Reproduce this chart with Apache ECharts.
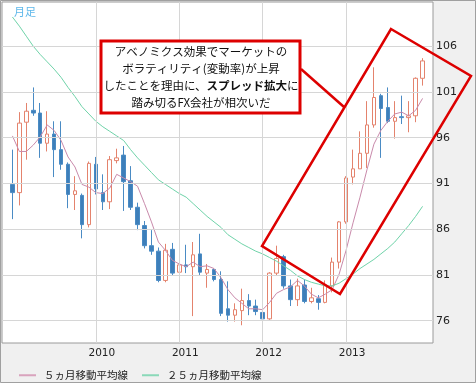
<!DOCTYPE html>
<html><head><meta charset="utf-8">
<script src="https://cdn.jsdelivr.net/npm/echarts@6/dist/echarts.min.js"></script>
<style>html,body{margin:0;padding:0;background:#fff}#c{width:476px;height:383px}</style>
</head><body><div id="c"></div>
<script>
const months = [
 '2009/01','2009/02','2009/03','2009/04','2009/05','2009/06','2009/07','2009/08','2009/09','2009/10','2009/11','2009/12',
 '2010/01','2010/02','2010/03','2010/04','2010/05','2010/06','2010/07','2010/08','2010/09','2010/10','2010/11','2010/12',
 '2011/01','2011/02','2011/03','2011/04','2011/05','2011/06','2011/07','2011/08','2011/09','2011/10','2011/11','2011/12',
 '2012/01','2012/02','2012/03','2012/04','2012/05','2012/06','2012/07','2012/08','2012/09','2012/10','2012/11','2012/12',
 '2013/01','2013/02','2013/03','2013/04','2013/05','2013/06','2013/07','2013/08','2013/09','2013/10','2013/11','2013/12'];
const opens  = [90.9,90.0,97.7,99.0,98.7,95.4,96.4,94.7,93.1,89.8,89.7,86.5,
                93.1,90.0,89.0,93.5,94.1,91.3,88.4,86.4,84.2,83.6,80.4,83.8,
                81.3,82.1,81.9,83.3,81.2,81.6,80.5,77.3,76.6,77.1,78.2,77.6,
                76.9,76.2,81.2,83.0,79.8,78.3,79.9,78.1,78.4,78.0,79.8,82.4,
                86.8,91.7,92.6,94.3,97.4,100.6,99.3,97.8,98.3,98.2,98.4,102.5];
const closes = [90.0,97.6,98.9,98.7,95.4,96.4,94.7,93.1,89.8,90.2,86.5,93.2,
                90.4,89.0,93.6,93.8,91.2,88.4,86.5,84.2,83.6,80.4,83.7,81.2,
                82.1,81.9,83.2,81.3,81.6,80.5,76.8,76.6,77.2,78.2,77.6,77.0,
                76.2,81.2,82.8,79.8,78.3,79.8,78.1,78.5,78.0,79.9,82.4,86.8,
                91.6,92.6,94.3,97.4,100.4,99.2,97.8,98.2,98.2,98.4,102.5,104.4];
const lows   = [87.1,88.6,93.6,98.4,93.8,94.5,91.7,92.5,88.3,88.1,85.0,86.2,
                89.8,88.1,88.2,93.2,88.0,88.1,85.9,83.9,83.2,80.2,80.2,80.9,
                81.0,81.2,76.5,81.0,79.6,80.3,76.5,75.9,75.9,75.5,76.6,76.6,
                76.0,76.1,80.9,79.5,77.6,77.6,77.9,77.9,77.2,77.9,79.1,81.7,
                86.6,90.9,92.6,92.7,97.1,93.8,97.6,95.9,97.5,96.6,97.7,101.7];
const highs  = [94.7,98.8,99.8,101.5,99.8,98.9,97.8,97.8,93.3,91.8,89.9,93.4,
                93.9,92.0,94.0,94.8,95.1,92.9,88.9,86.9,85.9,84.0,84.4,84.5,
                83.7,84.3,84.6,85.5,82.2,81.7,81.4,80.3,77.9,79.5,78.9,78.3,
                78.3,81.3,84.2,83.2,80.5,80.6,80.5,79.6,78.8,80.4,82.9,86.9,
                91.8,94.7,96.7,100.0,103.7,100.8,101.5,100.0,100.6,100.0,102.6,104.7];
const ma5    = [96.2,94.5,94.5,95.2,96.1,97.4,96.8,95.7,93.9,92.8,90.9,90.6,
                90.0,89.9,90.5,92.0,91.6,91.2,90.7,88.8,86.8,84.6,83.7,82.6,
                82.2,81.9,82.4,81.9,82.0,81.7,80.7,79.4,78.5,77.9,77.3,77.3,
                77.2,78.0,79.0,79.4,79.7,80.4,79.8,78.9,78.5,78.9,79.4,81.1,
                83.7,86.7,89.5,92.5,95.3,96.8,97.8,98.6,98.8,98.4,99.0,100.3];
const ma25   = [109.2,108.2,107.1,106.0,105.1,104.3,103.5,102.6,101.5,100.5,99.4,98.6,
                97.8,97.2,96.7,96.2,95.7,94.7,93.8,93.0,92.2,91.4,90.9,90.4,
                89.9,89.5,88.8,88.1,87.4,86.8,86.2,85.4,84.9,84.4,84.0,83.6,
                83.3,82.9,82.5,82.0,81.5,80.9,80.5,80.2,80.0,79.8,79.8,80.1,
                80.6,81.1,81.7,82.2,82.7,83.3,83.9,84.6,85.5,86.4,87.4,88.5];
const yTicks = [76,81,86,91,96,101,106];
const yearLabels = ['2010','2011','2012','2013'];
const seriesNames = ['５ヵ月移動平均線','２５ヵ月移動平均線'];

const cats = [' '].concat(months, ['  ']);
const pad = ['-','-','-','-'];
const candleData = [pad].concat(months.map((m,i)=>[opens[i],closes[i],lows[i],highs[i]]), [pad]);
const ma5Data = ['-'].concat(ma5, ['-']);
const ma25Data = ['-'].concat(ma25, ['-']);
const gridMarks = yearLabels.map(y=>({xAxis: y + '/01'})).concat(yTicks.map(v=>({yAxis: v})));

const chart = echarts.init(document.getElementById('c'), null, {renderer:'canvas'});
const RED = '#dd0000';
chart.setOption({
  animation:false,
  backgroundColor:'#f0f0f0',
  grid:{left:2, right:43, top:2, bottom:40, show:true, backgroundColor:'#fff', borderColor:'#9a9a9a', borderWidth:1},
  xAxis:{type:'category', data:cats, boundaryGap:true,
    axisLine:{show:false}, axisTick:{show:false}, splitLine:{show:false},
    axisLabel:{interval:(idx,val)=>val.endsWith('/01') && yearLabels.indexOf(val.slice(0,4))>=0,
      formatter:v=>v.slice(0,4), color:'#222', fontSize:10.5, fontFamily:'DejaVu Sans', margin:5, padding:[0,0,0,12]}},
  yAxis:{type:'value', position:'right', min:73.56, max:110.84, scale:true,
    axisLine:{show:false}, axisTick:{show:false}, splitLine:{show:false},
    axisLabel:{customValues:yTicks, color:'#222', fontSize:11, fontFamily:'DejaVu Sans', margin:3}},
  legend:{left:14, top:365, itemWidth:17, itemHeight:2, itemGap:14, icon:'rect',
    data:seriesNames, textStyle:{fontFamily:'Noto Sans CJK JP', fontSize:10.5, color:'#222', padding:[0,0,0,3]}},
  series:[
    {type:'line', data:[], z:1, silent:true,
      markLine:{silent:true, symbol:['none','none'], label:{show:false}, animation:false,
        lineStyle:{color:'#d6d6d6', width:1, type:'solid'}, emphasis:{disabled:true}, data:gridMarks}},
    {type:'candlestick', data:candleData, z:2, barWidth:4,
      itemStyle:{color:'#ffffff', color0:'#3e7fba', borderColor:'#e4836d', borderColor0:'#4a8bc4', borderWidth:1}},
    {type:'line', name:seriesNames[0], data:ma5Data, z:3, showSymbol:false, symbol:'none',
      lineStyle:{color:'#c98aab', width:1}, itemStyle:{color:'#d9a3bd'}},
    {type:'line', name:seriesNames[1], data:ma25Data, z:3, showSymbol:false, symbol:'none',
      lineStyle:{color:'#6fd3a9', width:1}, itemStyle:{color:'#8ad9b8'}}
  ],
  graphic:[
    {type:'rect', z:50, silent:true, shape:{x:0.5,y:0.5,width:475,height:382}, style:{fill:'none', stroke:'#a0a0a0', lineWidth:1}},
    {type:'text', z:50, left:14, top:6, style:{text:'月足', fill:'#5db7ea', font:'11px "Noto Sans CJK JP"'}},
    {type:'line', z:60, shape:{x1:301,y1:69,x2:344,y2:107}, style:{stroke:RED, lineWidth:2.5}},
    {type:'rect', z:61, shape:{x:101,y:41,width:199,height:72}, style:{fill:'#fff', stroke:RED, lineWidth:3}},
    {type:'text', z:62, x:201, y:43, style:{
      text:'アベノミクス効果でマーケットの\nボラティリティ(変動率)が上昇\nしたことを理由に、{b|スプレッド拡大}に\n踏み切るFX会社が相次いだ',
      align:'center', verticalAlign:'top', lineHeight:17, fill:'#111',
      font:'11.5px "Noto Sans CJK JP"',
      rich:{b:{fontWeight:'bold', fontSize:11.5, fontFamily:'Noto Sans CJK JP', fill:'#111', lineHeight:17}}}},
    {type:'polygon', z:60, shape:{points:[[391,29],[471,76],[340,294],[262,246]]}, style:{fill:'none', stroke:RED, lineWidth:2.5}}
  ]
});
</script></body></html>
